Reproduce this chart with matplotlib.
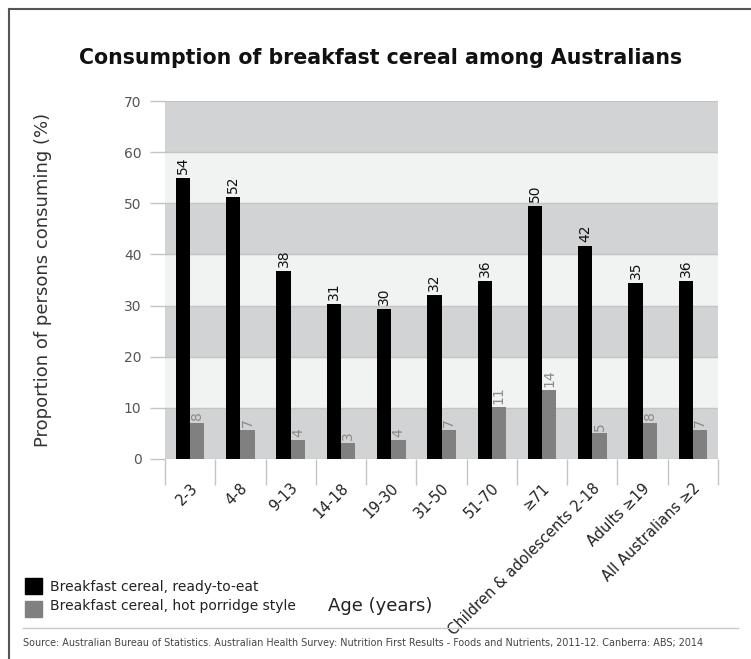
import numpy as np
import matplotlib
matplotlib.use('Agg')
import matplotlib.pyplot as plt
from matplotlib.lines import Line2D
from matplotlib.patches import Rectangle

# values, labels as printed above them
categories = ['2-3', '4-8', '9-13', '14-18', '19-30', '31-50', '51-70', '≥71',
              'Children & adolescents 2-18', 'Adults ≥19', 'All Australians ≥2']
ready_to_eat = [54.9, 51.2, 36.8, 30.3, 29.3, 32.0, 34.8, 49.5, 41.7, 34.4, 34.8]
porridge = [7.0, 5.7, 3.7, 3.1, 3.7, 5.7, 10.2, 13.5, 5.0, 7.0, 5.7]
ready_labels = ['54', '52', '38', '31', '30', '32', '36', '50', '42', '35', '36']
porridge_labels = ['8', '7', '4', '3', '4', '7', '11', '14', '5', '8', '7']
yticks = [0, 10, 20, 30, 40, 50, 60, 70]

COLORS = {
    'ready': '#000000',
    'porridge': '#808080',
    'band_dark': '#d1d3d4',
    'band_light': '#f1f2f2',
    'grid': '#c4c4c4',
}

plt.rcParams['font.family'] = ['DejaVu Sans']

fig = plt.figure(figsize=(7.51, 6.59), dpi=100)
ax = fig.add_axes([0.2197, 0.3035, 0.7364, 0.5432])

# alternating background bands
for k in range(len(yticks) - 1):
    color = COLORS['band_dark'] if k % 2 == 0 else COLORS['band_light']
    ax.axhspan(yticks[k], yticks[k + 1], color=color, zorder=0, lw=0)
for y in yticks:
    ax.axhline(y, color=COLORS['grid'], lw=1, zorder=1)

x = np.arange(len(categories)) + 0.5
w = 0.284
ax.bar(x - w / 2, ready_to_eat, width=w, color=COLORS['ready'], zorder=2)
ax.bar(x + w / 2, porridge, width=w, color=COLORS['porridge'], zorder=2)

for xi, v, lab in zip(x, ready_to_eat, ready_labels):
    ax.annotate(lab, (xi - w / 2, v), xytext=(0, 3), textcoords='offset points',
                rotation=90, ha='center', va='bottom', fontsize=10, color='#111111')
for xi, v, lab in zip(x, porridge, porridge_labels):
    ax.annotate(lab, (xi + w / 2, v), xytext=(0, 2), textcoords='offset points',
                rotation=90, ha='center', va='bottom', fontsize=10, color='#8a8a8a')

ax.set_xlim(0, len(categories))
ax.set_ylim(0, 70)
for s in ax.spines.values():
    s.set_visible(False)

ax.set_yticks(yticks)
ax.tick_params(axis='y', length=11, width=1, color=COLORS['grid'], pad=6,
               labelsize=10, labelcolor='#555555')

ax.set_xticks(np.arange(len(categories) + 1))
ax.set_xticklabels([])
ax.tick_params(axis='x', length=19, width=1, color=COLORS['grid'])
for xi, lab in zip(x, categories):
    ax.text(xi + 0.1, -0.075, lab, transform=ax.get_xaxis_transform(),
            rotation=45, rotation_mode='anchor', ha='right', va='center',
            fontsize=10.5, color='#222222')

ax.set_ylabel('Proportion of persons consuming (%)', fontsize=13, color='#333333',
              labelpad=52)

fig.text(0.507, 0.912, 'Consumption of breakfast cereal among Australians',
         ha='center', va='center', fontsize=14.8, fontweight='bold', color='#111111')

# legend drawn as figure patches
fig.patches.append(Rectangle((25 / 751, 1 - 594 / 659), 17 / 751, 16 / 659,
                             transform=fig.transFigure, color=COLORS['ready']))
fig.patches.append(Rectangle((25 / 751, 1 - 617 / 659), 17 / 751, 16 / 659,
                             transform=fig.transFigure, color=COLORS['porridge']))
fig.text(50 / 751, 1 - 587 / 659, 'Breakfast cereal, ready-to-eat',
         ha='left', va='center', fontsize=10, color='#222222')
fig.text(50 / 751, 1 - 606 / 659, 'Breakfast cereal, hot porridge style',
         ha='left', va='center', fontsize=10, color='#222222')
fig.text(380 / 751, 1 - 606 / 659, 'Age (years)', ha='center', va='center',
         fontsize=13, color='#222222')

# outer frame and source line
fig.add_artist(Line2D([9 / 751, 9 / 751], [0, 1 - 9 / 659], transform=fig.transFigure,
                      color='#555555', lw=1.5))
fig.add_artist(Line2D([9 / 751, 1], [1 - 9 / 659, 1 - 9 / 659], transform=fig.transFigure,
                      color='#555555', lw=1.5))
fig.add_artist(Line2D([23 / 751, 738 / 751], [1 - 628 / 659, 1 - 628 / 659],
                      transform=fig.transFigure, color='#c8c8c8', lw=1))
fig.text(23 / 751, 1 - 643 / 659,
         'Source: Australian Bureau of Statistics. Australian Health Survey: Nutrition First '
         'Results - Foods and Nutrients, 2011-12. Canberra: ABS; 2014',
         ha='left', va='center', fontsize=6.9, color='#444444')

fig.savefig('out.png', dpi=100)
